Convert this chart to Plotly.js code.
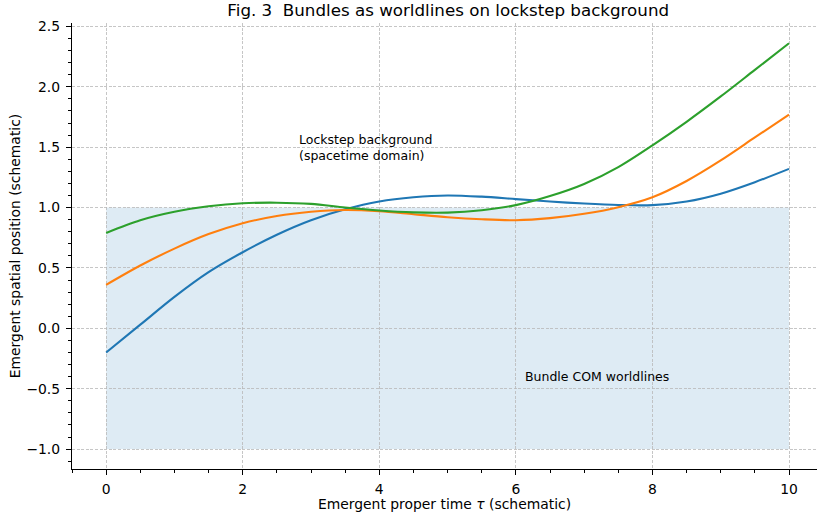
<!DOCTYPE html>
<html>
<head>
<meta charset="utf-8">
<script src="https://cdn.plot.ly/plotly-3.0.1.min.js"></script>
<style>html,body{margin:0;padding:0;background:#fff;}#chart{width:817px;height:512px;}</style>
</head>
<body>
<div id="chart"></div>
<script>
const tau = [0,0.5,1,1.5,2,2.5,3,3.5,4,4.5,5,5.5,6,6.5,7,7.5,8,8.5,9,9.5,10];
const bundleA = [-0.20,0.03,0.26,0.465,0.63,0.775,0.895,0.985,1.05,1.085,1.10,1.09,1.07,1.05,1.033,1.021,1.02,1.05,1.115,1.21,1.32];
const bundleB = [0.36,0.52,0.66,0.78,0.87,0.93,0.965,0.98,0.97,0.945,0.92,0.903,0.895,0.912,0.948,1.003,1.085,1.22,1.39,1.58,1.77];
const bundleC = [0.79,0.895,0.965,1.01,1.035,1.04,1.03,1.00,0.975,0.96,0.958,0.978,1.02,1.095,1.195,1.335,1.515,1.71,1.92,2.14,2.36];
const bandX = [0,10];
const bandY = [-1,1];
const xTicks = [0,2,4,6,8,10];
const yTicks = [-1.0,-0.5,0.0,0.5,1.0,1.5,2.0,2.5];
const titleText = "Fig. 3  Bundles as worldlines on lockstep background";
const xLabel = "Emergent proper time <i>τ</i> (schematic)";
const yLabel = "Emergent spatial position (schematic)";
const note1 = "Lockstep background<br>(spacetime domain)";
const note2 = "Bundle COM worldlines";

const colors = ["#1f77b4","#ff7f0e","#2ca02c"];
const FONT = "DejaVu Sans, sans-serif";
const mk = (y,c) => ({x: tau, y: y, type:'scatter', mode:'lines', line:{color:c, width:2.1, shape:'spline', smoothing:0.9}, hoverinfo:'skip', showlegend:false});
const data = [mk(bundleA,colors[0]), mk(bundleB,colors[1]), mk(bundleC,colors[2])];

const gridStyle = {showgrid:true, gridcolor:'#b8b8b8', gridwidth:0.8, griddash:'3px,1.6px'};
const layout = {
  width:817, height:512,
  margin:{l:72, r:0, t:23, b:43, pad:0},
  paper_bgcolor:'#fff', plot_bgcolor:'#fff',
  font:{family:FONT, size:13.9, color:'#000'},
  title:{text:titleText, font:{family:FONT, size:16.7, color:'#000'}, xref:'paper', x:0.505, xanchor:'center', yref:'container', y:1-10.5/512, yanchor:'middle'},
  xaxis:Object.assign({
    range:[-0.5,10.41], tickvals:xTicks, ticktext:xTicks.map(String),
    ticks:'outside', ticklen:5, tickwidth:1, tickcolor:'#000',
    showline:true, linecolor:'#000', linewidth:1.1, zeroline:false, mirror:false,
    tickfont:{size:13.9, family:FONT}, ticklabelstandoff:2,
    minor:{dtick:0.5, tick0:0, ticks:'outside', ticklen:3, tickcolor:'#000', showgrid:false},
    title:{text:xLabel, font:{size:13.9, family:FONT}, standoff:5}
  }, gridStyle),
  yaxis:Object.assign({
    range:[-1.165,2.528], tickvals:yTicks, ticktext:yTicks.map(v => (v<0?'\u2212':'') + Math.abs(v).toFixed(1)),
    ticks:'outside', ticklen:5, tickwidth:1, tickcolor:'#000',
    showline:true, linecolor:'#000', linewidth:1.1, zeroline:false, mirror:false,
    tickfont:{size:13.9, family:FONT}, ticklabelstandoff:3,
    minor:{dtick:0.1, tick0:0, ticks:'outside', ticklen:3, tickcolor:'#000', showgrid:false},
    title:{text:yLabel, font:{size:13.9, family:FONT}, standoff:2}
  }, gridStyle),
  shapes:[{type:'rect', xref:'x', yref:'y', x0:bandX[0], x1:bandX[1], y0:bandY[0], y1:bandY[1], fillcolor:'rgba(31,119,180,0.15)', line:{width:0}, layer:'below'}],
  annotations:[
    {x:2.8, y:1.5, xref:'x', yref:'y', text:note1, showarrow:false, xanchor:'left', yanchor:'middle', align:'left', font:{size:12.5, family:FONT, color:'#000'}},
    {x:6.1, y:-0.4, xref:'x', yref:'y', text:note2, showarrow:false, xanchor:'left', yanchor:'middle', align:'left', font:{size:12.5, family:FONT, color:'#000'}}
  ]
};
Plotly.newPlot('chart', data, layout, {displayModeBar:false, staticPlot:true});
</script>
</body>
</html>
